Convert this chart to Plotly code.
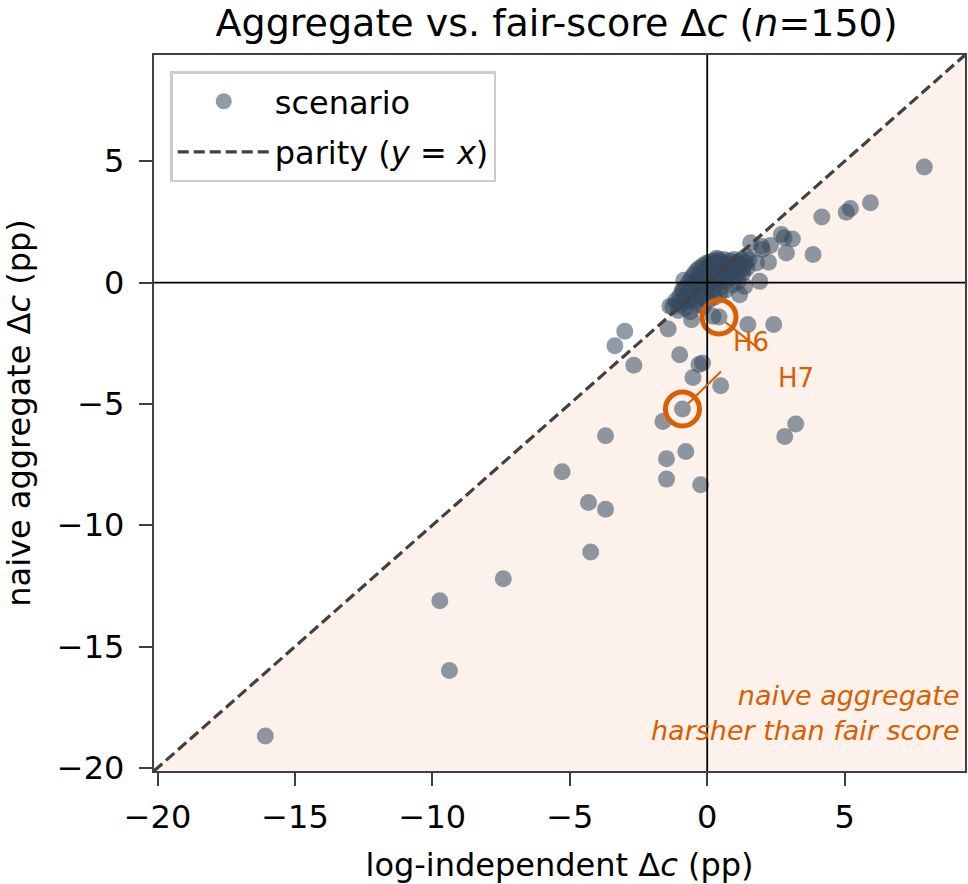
import plotly.graph_objects as go

# ---------------- data ----------------
outlier_x = [-16.08, -9.73, -9.38, -7.42, -5.28, -4.32, -3.70, -4.24, -3.70, -1.61,
             -1.48, -1.48, -0.90, -0.78, -0.24, -3.00, -3.36, -2.67, -1.00, -0.30,
             -0.17, -0.52, 0.49, -1.42, -0.57, 0.43, 0.21, 7.90, 5.94, 5.21,
             5.06, 4.17, 3.10, 2.70, 2.80, 2.88, 3.85, 1.58, 1.97, 2.30,
             2.23, 1.91, 1.42, 1.36, 1.18, 1.48, 2.42, 3.22, 2.82, 1.79,
             2.00, 1.30, -1.36, -1.07, -0.89]
outlier_y = [-18.69, -13.11, -15.99, -12.21, -7.80, -9.06, -9.34, -11.10, -6.31, -5.73,
             -7.26, -8.10, -5.21, -6.96, -8.33, -2.01, -2.60, -3.41, -2.97, -3.38,
             -3.31, -3.91, -4.25, -1.91, -1.53, -1.42, -1.39, 4.76, 3.29, 3.05,
             2.90, 2.70, 1.80, 1.98, 1.85, 1.22, 1.16, 1.64, 1.50, 1.53,
             0.84, 0.05, 1.09, -0.15, -0.50, -1.73, -1.73, -5.83, -6.34, 0.81,
             1.36, 0.54, -0.98, -0.83, -0.29]

cluster_x = [-1.25, -1.15, -1.05, -1.00, -0.95, -0.90, -0.85, -0.80, -0.78, -0.75,
             -0.70, -0.68, -0.65, -0.60, -0.58, -0.55, -0.50, -0.48, -0.45, -0.42,
             -0.40, -0.38, -0.35, -0.32, -0.30, -0.28, -0.25, -0.22, -0.20, -0.18,
             -0.15, -0.12, -0.10, -0.08, -0.05, -0.03, 0.00, 0.02, 0.04, 0.06,
             0.08, 0.10, 0.12, 0.14, 0.16, 0.18, 0.20, 0.22, 0.25, 0.28,
             0.30, 0.32, 0.35, 0.38, 0.40, 0.42, 0.45, 0.48, 0.50, 0.52,
             0.55, 0.58, 0.60, 0.63, 0.66, 0.70, 0.73, 0.76, 0.80, 0.83,
             0.86, 0.90, 0.94, 0.98, 1.02, 1.06, 1.10, 1.15, 1.20, 1.25,
             1.30, 1.38, 1.45, 1.52, -0.62, -0.36, -0.14, 0.05, 0.27, 0.46,
             0.68, 0.92, 1.12, -0.85, 0.34]
cluster_y = [-1.00, -0.75, -1.15, -0.55, -0.90, -0.35, -0.70, -1.05, -0.20, -0.50,
             -0.80, 0.00, -0.30, -0.60, 0.20, -0.10, -0.40, 0.35, -0.75, 0.05,
             -0.25, 0.50, -0.55, 0.25, -0.05, 0.60, -0.35, 0.40, 0.10, -0.65,
             0.70, -0.15, 0.30, 0.55, 0.00, 0.80, -0.40, 0.45, 0.20, 0.65,
             -0.10, 0.85, 0.35, 0.55, 0.05, 0.75, -0.30, 0.45, 0.90, 0.25,
             0.60, -0.05, 0.80, 0.40, 0.95, 0.15, 0.65, -0.20, 0.85, 0.45,
             0.25, 0.70, 0.95, 0.50, 0.10, 0.80, 0.60, 0.35, 0.90, 0.55,
             0.20, 0.75, 0.45, 0.95, 0.60, 0.30, 0.85, 0.50, 0.70, 0.95,
             0.40, 0.80, 0.60, 0.95, -1.20, -0.90, -1.00, -0.75, -0.60, -0.45,
             -0.30, -0.10, 0.05, 0.10, 1.00]

scen_x = outlier_x + cluster_x
scen_y = outlier_y + cluster_y

highlight_labels = ["H6", "H7"]
highlight_x = [0.43, -0.90]
highlight_y = [-1.42, -5.21]
label_x = [1.61, 3.22]
label_y = [-2.43, -3.92]
leader_dx = [44, 40]     # leader line direction (px)
leader_dy = [35, -39]

axis_lo, axis_hi = -20.13, 9.38
x_ticks = [-20, -15, -10, -5, 0, 5]
y_ticks = [-20, -15, -10, -5, 0, 5]

ORANGE = "#d95f02"
FONT = "DejaVu Sans"

fig = go.Figure()

# shaded region below parity
fig.add_trace(go.Scatter(
    x=[axis_lo, axis_hi, axis_hi, axis_lo], y=[axis_lo, axis_hi, axis_lo, axis_lo],
    fill="toself", fillcolor="rgba(217,95,2,0.08)", line=dict(width=0),
    mode="lines", showlegend=False, hoverinfo="skip"))

fig.add_trace(go.Scatter(
    x=scen_x, y=scen_y, mode="markers", name="scenario",
    marker=dict(size=17, color="rgba(52,73,94,0.55)", line=dict(width=0)),
    legendgroup="a"))

fig.add_trace(go.Scatter(
    x=[axis_lo, axis_hi], y=[axis_lo, axis_hi], mode="lines",
    name="parity (<i>y</i> = <i>x</i>)",
    line=dict(color="#444040", width=3.2, dash="11px,5px"),
    legendgroup="b"))

fig.add_trace(go.Scatter(
    x=highlight_x, y=highlight_y, mode="markers", showlegend=False,
    marker=dict(symbol="circle-open", size=34, color=ORANGE, line=dict(width=5, color=ORANGE))))

# zero lines
fig.add_shape(type="line", xref="x", yref="paper", x0=0, x1=0, y0=0, y1=1,
              line=dict(color="black", width=1.8), layer="above")
fig.add_shape(type="line", xref="paper", yref="y", x0=0, x1=1, y0=0, y1=0,
              line=dict(color="black", width=1.8), layer="above")

for lab, hx, hy, lx, ly, dx, dy in zip(highlight_labels, highlight_x, highlight_y,
                                       label_x, label_y, leader_dx, leader_dy):
    fig.add_annotation(x=hx, y=hy, ax=dx, ay=dy, text="", showarrow=True,
                       arrowhead=0, arrowwidth=2, arrowcolor=ORANGE, standoff=8)
    fig.add_annotation(x=lx, y=ly, text=lab, showarrow=False,
                       font=dict(family=FONT, size=26, color=ORANGE))

fig.add_annotation(xref="paper", yref="paper", x=0.996, y=0.081, xanchor="right", yanchor="middle",
                   text="<i>naive aggregate</i><br><i>harsher than fair score</i>",
                   align="right", showarrow=False,
                   font=dict(family=FONT, size=27, color=ORANGE))

axis_common = dict(range=[axis_lo, axis_hi], showgrid=False, zeroline=False,
                   showline=True, linecolor="#404040", linewidth=2.4, mirror=True,
                   ticks="outside", ticklen=13, tickwidth=2.4, tickcolor="#404040",
                   tickfont=dict(family=FONT, size=32, color="black"), automargin=False)

fig.update_layout(
    width=968, height=884,
    margin=dict(l=154, r=3, t=55, b=113),
    paper_bgcolor="white", plot_bgcolor="white",
    font=dict(family=FONT, color="black"),
    title=dict(text="Aggregate vs. fair-score Δ<i>c</i> (<i>n</i>=150)",
               x=0.575, xanchor="center", y=0.974, yanchor="middle", yref="container",
               font=dict(family=FONT, size=38, color="black")),
    xaxis=dict(tickvals=x_ticks, ticklabelstandoff=3,
               title=dict(text="log-independent Δ<i>c</i> (pp)",
                          font=dict(family=FONT, size=32), standoff=24), **axis_common),
    yaxis=dict(tickvals=y_ticks, ticklabelstandoff=8,
               title=dict(text="naive aggregate Δ<i>c</i> (pp)",
                          font=dict(family=FONT, size=32), standoff=25), **axis_common),
    legend=dict(x=0.02, y=0.977, xanchor="left", yanchor="top",
                bgcolor="white", bordercolor="#cccccc", borderwidth=2.5,
                font=dict(family=FONT, size=32), itemwidth=92,
                tracegroupgap=6, traceorder="grouped"),
)

fig.write_html("out.html")
